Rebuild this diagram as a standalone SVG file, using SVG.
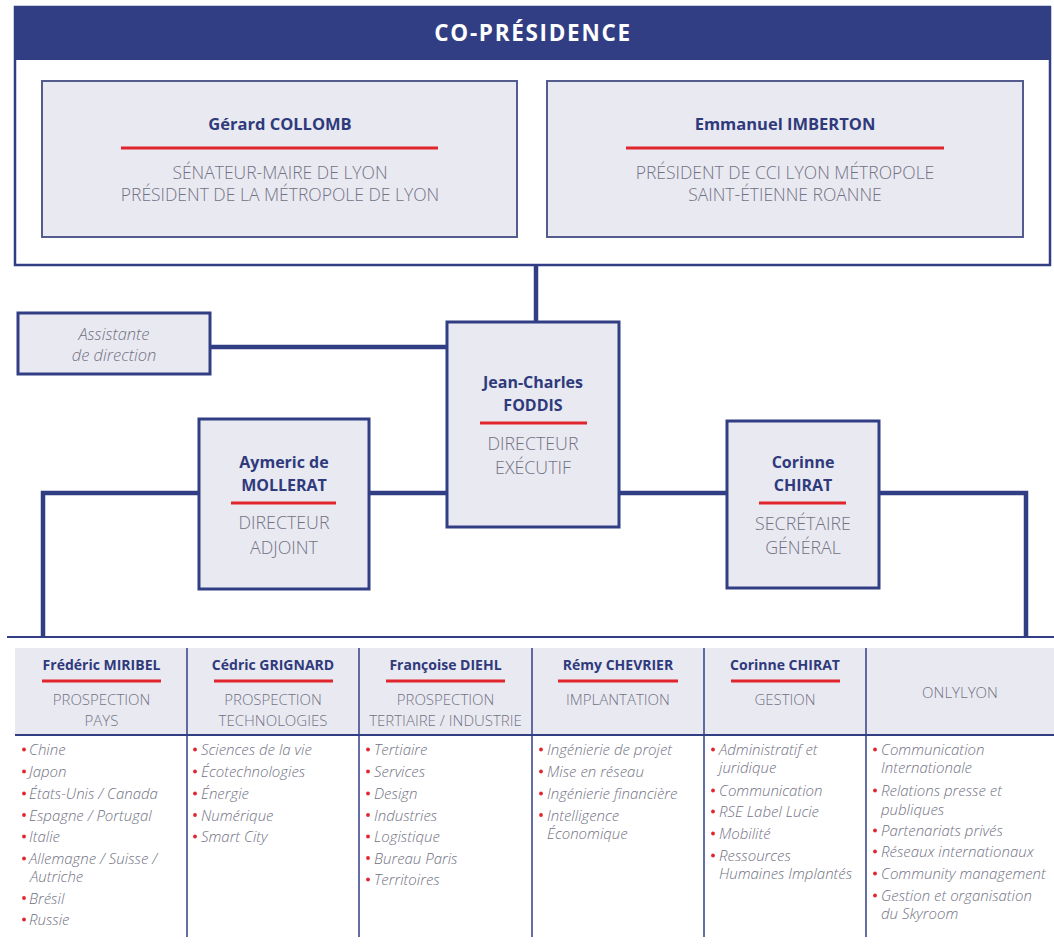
<svg xmlns="http://www.w3.org/2000/svg" width="1054" height="944" viewBox="0 0 1054 944">
<style>
  .bg{fill:#ffffff}
  .frame{fill:#ffffff;stroke:#323e84;stroke-width:2.5}
  .band{fill:#323e84}
  .pbox{fill:#e9e9f1;stroke:#545b8f;stroke-width:2}
  .box{fill:#e9e9f1;stroke:#323e84;stroke-width:3}
  .conn{fill:none;stroke:#323e84;stroke-width:4.5}
  .thin{fill:none;stroke:#323e84;stroke-width:2}
  .div{fill:none;stroke:#323e84;stroke-width:1.5}
  .hdr{fill:#e9e9f1}
  .red{stroke:#e1252d;stroke-width:3}
  .title{font-family:"Open Sans","Liberation Sans",sans-serif;font-weight:700;font-size:22.5px;fill:#ffffff;letter-spacing:1.7px;text-anchor:middle}
  .name{font-family:"Open Sans","Liberation Sans",sans-serif;font-weight:700;font-size:16.5px;fill:#2f3a7c;text-anchor:middle}
  .mname{font-family:"Open Sans","Liberation Sans",sans-serif;font-weight:700;font-size:16px;fill:#2f3a7c;text-anchor:middle}
  .sname{font-family:"Open Sans","Liberation Sans",sans-serif;font-weight:700;font-size:14px;fill:#2f3a7c;text-anchor:middle}
  .role{font-family:"Open Sans","Liberation Sans",sans-serif;font-weight:300;font-size:17.5px;fill:#727284;text-anchor:middle}
  .mrole{font-family:"Open Sans","Liberation Sans",sans-serif;font-weight:300;font-size:17.8px;fill:#727284;text-anchor:middle}
  .srole{font-family:"Open Sans","Liberation Sans",sans-serif;font-weight:300;font-size:15px;fill:#727284;text-anchor:middle}
  .it{font-family:"Open Sans","Liberation Sans",sans-serif;font-weight:300;font-style:italic;font-size:16.5px;fill:#727284;text-anchor:middle}
  .item{font-family:"Open Sans","Liberation Sans",sans-serif;font-weight:300;font-style:italic;font-size:15px;fill:#727284}
  .dot{fill:#e1252d}
</style>
<rect class="bg" x="0" y="0" width="1054" height="944"/>

<g id="connectors">
  <line class="conn" x1="536" y1="265" x2="536" y2="323"/>
  <line class="conn" x1="210" y1="347" x2="447" y2="347"/>
  <polyline class="conn" points="199,493 43,493 43,637"/>
  <line class="conn" x1="369" y1="493" x2="447" y2="493"/>
  <line class="conn" x1="619" y1="493" x2="727" y2="493"/>
  <polyline class="conn" points="879,493 1026,493 1026,637"/>
  <line class="thin" x1="7" y1="637" x2="1054" y2="637"/>
</g>

<g id="co-presidence">
  <rect class="frame" x="15" y="7" width="1035" height="258"/>
  <rect class="band" x="15" y="7" width="1035" height="53"/>
  <text class="title" x="533" y="41">CO-PRÉSIDENCE</text>
</g>

<g id="collomb">
  <rect class="pbox" x="42" y="81" width="475" height="156"/>
  <text class="name" x="280" y="130">Gérard COLLOMB</text>
  <line class="red" x1="121" y1="148" x2="438" y2="148"/>
  <text class="role" x="280" y="179">SÉNATEUR-MAIRE DE LYON</text>
  <text class="role" x="280" y="201">PRÉSIDENT DE LA MÉTROPOLE DE LYON</text>
</g>

<g id="imberton">
  <rect class="pbox" x="547" y="81" width="476" height="156"/>
  <text class="name" x="785" y="130">Emmanuel IMBERTON</text>
  <line class="red" x1="626" y1="148" x2="944" y2="148"/>
  <text class="role" x="785" y="179">PRÉSIDENT DE CCI LYON MÉTROPOLE</text>
  <text class="role" x="785" y="201">SAINT-ÉTIENNE ROANNE</text>
</g>

<g id="assistante">
  <rect class="box" x="18" y="313" width="192" height="61"/>
  <text class="it" x="114" y="340">Assistante</text>
  <text class="it" x="114" y="361">de direction</text>
</g>

<g id="foddis">
  <rect class="box" x="447" y="322" width="172" height="205"/>
  <text class="mname" x="533" y="388">Jean-Charles</text>
  <text class="mname" x="533" y="411">FODDIS</text>
  <line class="red" x1="480" y1="423" x2="587" y2="423"/>
  <text class="mrole" x="533" y="450">DIRECTEUR</text>
  <text class="mrole" x="533" y="474">EXÉCUTIF</text>
</g>

<g id="mollerat">
  <rect class="box" x="199" y="419" width="170" height="170"/>
  <text class="mname" x="284" y="468">Aymeric de</text>
  <text class="mname" x="284" y="491">MOLLERAT</text>
  <line class="red" x1="231" y1="503" x2="336" y2="503"/>
  <text class="mrole" x="284" y="529">DIRECTEUR</text>
  <text class="mrole" x="284" y="554">ADJOINT</text>
</g>

<g id="chirat">
  <rect class="box" x="727" y="421" width="152" height="167"/>
  <text class="mname" x="803" y="468">Corinne</text>
  <text class="mname" x="803" y="491">CHIRAT</text>
  <line class="red" x1="759" y1="503" x2="846" y2="503"/>
  <text class="mrole" x="803" y="530">SECRÉTAIRE</text>
  <text class="mrole" x="803" y="554">GÉNÉRAL</text>
</g>

<g id="departements-grille">
  <rect class="hdr" x="15" y="648" width="1039" height="87"/>
  <line class="thin" x1="15" y1="735" x2="1054" y2="735"/>
  <line class="div" x1="187" y1="648" x2="187" y2="937"/>
  <line class="div" x1="359" y1="648" x2="359" y2="937"/>
  <line class="div" x1="532" y1="648" x2="532" y2="937"/>
  <line class="div" x1="704" y1="648" x2="704" y2="937"/>
  <line class="div" x1="866" y1="648" x2="866" y2="937"/>
</g>

<g id="miribel">
  <text class="sname" x="101.5" y="670">Frédéric MIRIBEL</text>
  <line class="red" x1="42" y1="681" x2="161" y2="681"/>
  <text class="srole" x="101.5" y="705">PROSPECTION</text>
  <text class="srole" x="101.5" y="726">PAYS</text>
  <circle class="dot" cx="24" cy="749.5" r="1.9"/><text class="item" x="29" y="755">Chine</text>
  <circle class="dot" cx="24" cy="771.5" r="1.9"/><text class="item" x="29" y="777">Japon</text>
  <circle class="dot" cx="24" cy="793.5" r="1.9"/><text class="item" x="29" y="799">États-Unis / Canada</text>
  <circle class="dot" cx="24" cy="815" r="1.9"/><text class="item" x="29" y="820.5">Espagne / Portugal</text>
  <circle class="dot" cx="24" cy="836.5" r="1.9"/><text class="item" x="29" y="842">Italie</text>
  <circle class="dot" cx="24" cy="858.5" r="1.9"/><text class="item" x="29" y="864">Allemagne / Suisse /</text>
  <text class="item" x="30" y="882">Autriche</text>
  <circle class="dot" cx="24" cy="898" r="1.9"/><text class="item" x="29" y="903.5">Brésil</text>
  <circle class="dot" cx="24" cy="919.5" r="1.9"/><text class="item" x="29" y="925">Russie</text>
</g>

<g id="grignard">
  <text class="sname" x="273" y="670">Cédric GRIGNARD</text>
  <line class="red" x1="214" y1="681" x2="333" y2="681"/>
  <text class="srole" x="273" y="705">PROSPECTION</text>
  <text class="srole" x="273" y="726">TECHNOLOGIES</text>
  <circle class="dot" cx="195" cy="749.5" r="1.9"/><text class="item" x="201" y="755">Sciences de la vie</text>
  <circle class="dot" cx="195" cy="771.5" r="1.9"/><text class="item" x="201" y="777">Écotechnologies</text>
  <circle class="dot" cx="195" cy="793.5" r="1.9"/><text class="item" x="201" y="799">Énergie</text>
  <circle class="dot" cx="195" cy="815" r="1.9"/><text class="item" x="201" y="820.5">Numérique</text>
  <circle class="dot" cx="195" cy="836.5" r="1.9"/><text class="item" x="201" y="842">Smart City</text>
</g>

<g id="diehl">
  <text class="sname" x="445.5" y="670">Françoise DIEHL</text>
  <line class="red" x1="386" y1="681" x2="505" y2="681"/>
  <text class="srole" x="445.5" y="705">PROSPECTION</text>
  <text class="srole" x="445.5" y="726">TERTIAIRE / INDUSTRIE</text>
  <circle class="dot" cx="368" cy="749.5" r="1.9"/><text class="item" x="374" y="755">Tertiaire</text>
  <circle class="dot" cx="368" cy="771.5" r="1.9"/><text class="item" x="374" y="777">Services</text>
  <circle class="dot" cx="368" cy="793.5" r="1.9"/><text class="item" x="374" y="799">Design</text>
  <circle class="dot" cx="368" cy="815" r="1.9"/><text class="item" x="374" y="820.5">Industries</text>
  <circle class="dot" cx="368" cy="836.5" r="1.9"/><text class="item" x="374" y="842">Logistique</text>
  <circle class="dot" cx="368" cy="858" r="1.9"/><text class="item" x="374" y="863.5">Bureau Paris</text>
  <circle class="dot" cx="368" cy="879.5" r="1.9"/><text class="item" x="374" y="885">Territoires</text>
</g>

<g id="chevrier">
  <text class="sname" x="618" y="670">Rémy CHEVRIER</text>
  <line class="red" x1="558" y1="681" x2="678" y2="681"/>
  <text class="srole" x="618" y="705">IMPLANTATION</text>
  <circle class="dot" cx="541" cy="749.5" r="1.9"/><text class="item" x="547" y="755">Ingénierie de projet</text>
  <circle class="dot" cx="541" cy="771.5" r="1.9"/><text class="item" x="547" y="777">Mise en réseau</text>
  <circle class="dot" cx="541" cy="793.5" r="1.9"/><text class="item" x="547" y="799">Ingénierie financière</text>
  <circle class="dot" cx="541" cy="815" r="1.9"/><text class="item" x="547" y="820.5">Intelligence</text>
  <text class="item" x="547" y="839">Économique</text>
</g>

<g id="chirat-gestion">
  <text class="sname" x="785" y="670">Corinne CHIRAT</text>
  <line class="red" x1="731" y1="681" x2="840" y2="681"/>
  <text class="srole" x="785" y="705">GESTION</text>
  <circle class="dot" cx="713" cy="749.5" r="1.9"/><text class="item" x="719" y="755">Administratif et</text>
  <text class="item" x="719" y="773">juridique</text>
  <circle class="dot" cx="713" cy="790.5" r="1.9"/><text class="item" x="719" y="796">Communication</text>
  <circle class="dot" cx="713" cy="811.5" r="1.9"/><text class="item" x="719" y="817">RSE Label Lucie</text>
  <circle class="dot" cx="713" cy="833.5" r="1.9"/><text class="item" x="719" y="839">Mobilité</text>
  <circle class="dot" cx="713" cy="855.5" r="1.9"/><text class="item" x="719" y="861">Ressources</text>
  <text class="item" x="719" y="879">Humaines Implantés</text>
</g>

<g id="onlylyon">
  <text class="srole" x="960" y="698">ONLYLYON</text>
  <circle class="dot" cx="875" cy="749.5" r="1.9"/><text class="item" x="881" y="755">Communication</text>
  <text class="item" x="881" y="773">Internationale</text>
  <circle class="dot" cx="875" cy="790.5" r="1.9"/><text class="item" x="881" y="796">Relations presse et</text>
  <text class="item" x="881" y="815">publiques</text>
  <circle class="dot" cx="875" cy="830.5" r="1.9"/><text class="item" x="881" y="836">Partenariats privés</text>
  <circle class="dot" cx="875" cy="851.5" r="1.9"/><text class="item" x="881" y="857">Réseaux internationaux</text>
  <circle class="dot" cx="875" cy="873.5" r="1.9"/><text class="item" x="881" y="879">Community management</text>
  <circle class="dot" cx="875" cy="895.5" r="1.9"/><text class="item" x="881" y="901">Gestion et organisation</text>
  <text class="item" x="881" y="919">du Skyroom</text>
</g>
</svg>
